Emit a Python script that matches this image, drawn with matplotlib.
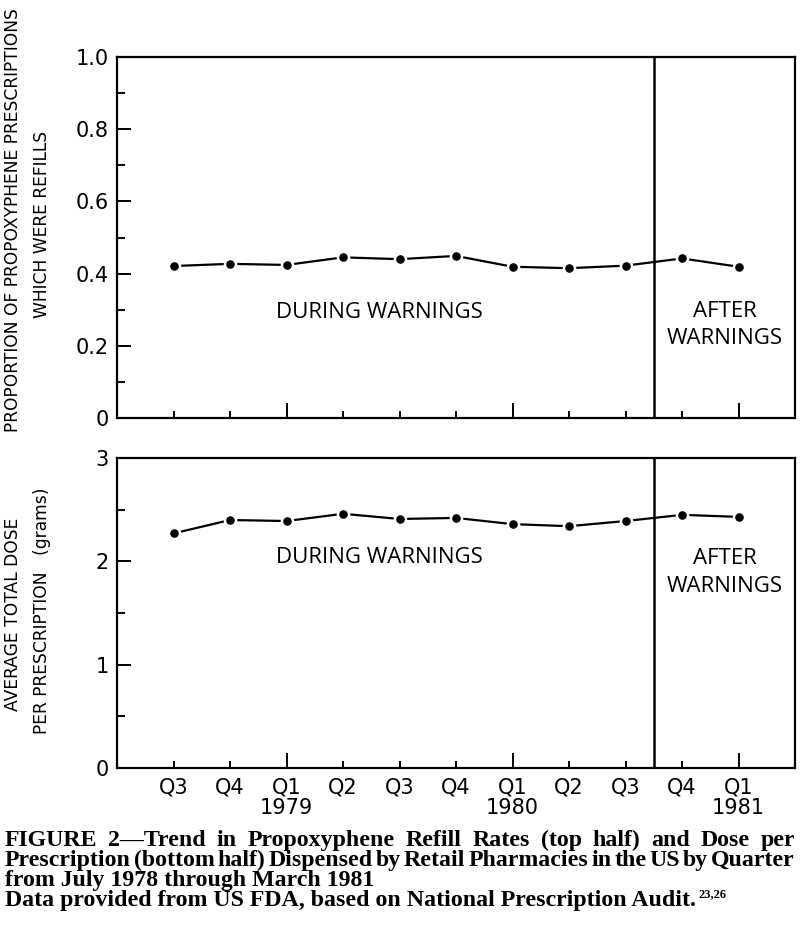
import matplotlib
matplotlib.use("Agg")
import matplotlib.pyplot as plt
import numpy as np

# ---------------- data ----------------
quarters = ["Q3", "Q4", "Q1", "Q2", "Q3", "Q4", "Q1", "Q2", "Q3", "Q4", "Q1"]
years = {2: "1979", 6: "1980", 10: "1981"}
refill_prop = [0.421, 0.427, 0.424, 0.445, 0.440, 0.449, 0.419, 0.415, 0.422, 0.442, 0.419]
dose_grams = [2.27, 2.40, 2.39, 2.46, 2.41, 2.42, 2.36, 2.34, 2.39, 2.45, 2.43]
warning_split = 8.5

W, H = 800, 925
fig = plt.figure(figsize=(W / 100, H / 100), dpi=100)

def ax_rect(l, t, r, b):
    return [l / W, 1 - b / H, (r - l) / W, (b - t) / H]

ax1 = fig.add_axes(ax_rect(117, 57, 795, 418))
ax2 = fig.add_axes(ax_rect(117, 458, 795, 768))

x = np.arange(len(quarters))
tick_font = ["DejaVu Sans"]
label_font = ["Open Sans", "Lato", "DejaVu Sans"]

for ax, vals in ((ax1, refill_prop), (ax2, dose_grams)):
    ax.plot(x, vals, color="black", lw=1.6, marker="o", ms=8,
            mfc="black", mec="white", mew=1.8, zorder=3)
    ax.axvline(warning_split, color="black", lw=1.8)
    ax.set_xlim(-1, 11)
    for s in ax.spines.values():
        s.set_linewidth(1.6)
    ax.set_xticks(x)
    ax.tick_params(axis="both", which="both", direction="in", width=1.4)

# top panel
ax1.set_ylim(0, 1.0)
ax1.set_yticks([0, 0.2, 0.4, 0.6, 0.8, 1.0])
ax1.set_yticklabels(["0", "0.2", "0.4", "0.6", "0.8", "1.0"])
ax1.set_yticks(np.arange(0.1, 1.0, 0.2), minor=True)
ax1.set_xticklabels([])

# bottom panel
ax2.set_ylim(0, 3)
ax2.set_yticks([0, 1, 2, 3])
ax2.set_yticks([0.5, 1.5, 2.5], minor=True)
ax2.set_xticklabels([q + ("\n" + years[i] if i in years else "") for i, q in enumerate(quarters)],
                    linespacing=1.0, va="top")

for ax in (ax1, ax2):
    ax.tick_params(axis="y", which="major", length=10, pad=6, labelsize=15)
    ax.tick_params(axis="y", which="minor", length=6)
    ax.tick_params(axis="x", which="major", length=5, pad=7, labelsize=15)
    for lab in ax.get_xticklabels() + ax.get_yticklabels():
        lab.set_family(tick_font)
    for i, t in enumerate(ax.xaxis.get_major_ticks()):
        if i in years:
            t.tick1line.set_markersize(11)

# annotations
ann_kw = dict(ha="center", va="center", fontsize=16, family=label_font)
ax1.text(3.64, 0.291, "DURING WARNINGS", **ann_kw)
ax1.text(9.76, 0.258, "AFTER\nWARNINGS", linespacing=1.4, **ann_kw)
ax2.text(3.64, 2.04, "DURING WARNINGS", **ann_kw)
ax2.text(9.76, 1.89, "AFTER\nWARNINGS", linespacing=1.4, **ann_kw)

# y labels
def ftext(px, py, s, **kw):
    return fig.text(px / W, 1 - py / H, s, **kw)

ylab_kw = dict(rotation=90, ha="center", va="center", fontsize=12.3,
               family=["DejaVu Sans"])
ftext(13, 220, "PROPORTION OF PROPOXYPHENE PRESCRIPTIONS", **ylab_kw)
ftext(42, 224, "WHICH WERE REFILLS", **ylab_kw)
ftext(13, 614, "AVERAGE TOTAL DOSE", **ylab_kw)
ftext(42, 611, "PER PRESCRIPTION   (grams)", **ylab_kw)

# caption
cap_font = ["Liberation Serif"]
cap_size = 17.2
caption_lines = [
    "FIGURE 2\u2014Trend in Propoxyphene Refill Rates (top half) and Dose per",
    "Prescription (bottom half) Dispensed by Retail Pharmacies in the US by Quarter",
    "from July 1978 through March 1981",
    "Data provided from US FDA, based on National Prescription Audit.",
]
justify = [True, True, False, False]
cap_base = [846, 866, 886, 906]
left_px, right_px = 5, 795

renderer = fig.canvas.get_renderer()
last_end = None
for line, jus, yy in zip(caption_lines, justify, cap_base):
    if jus:
        words = line.split(" ")
        widths = []
        for w in words:
            t = fig.text(0, 0, w, fontsize=cap_size, family=cap_font, weight="bold")
            widths.append(t.get_window_extent(renderer).width)
            t.remove()
        gap = (right_px - left_px - sum(widths)) / (len(words) - 1)
        cx = left_px
        for w, wd in zip(words, widths):
            ftext(cx, yy, w, fontsize=cap_size, family=cap_font, weight="bold",
                  ha="left", va="baseline")
            cx += wd + gap
    else:
        t = ftext(left_px, yy, line, fontsize=cap_size, family=cap_font,
                  weight="bold", ha="left", va="baseline")
        last_end = t.get_window_extent(renderer).x1

ftext(last_end + 3, cap_base[-1] - 9, "23,26", fontsize=9, family=cap_font,
      weight="bold", ha="left", va="baseline")

fig.savefig("out.png", dpi=100, facecolor="white")
